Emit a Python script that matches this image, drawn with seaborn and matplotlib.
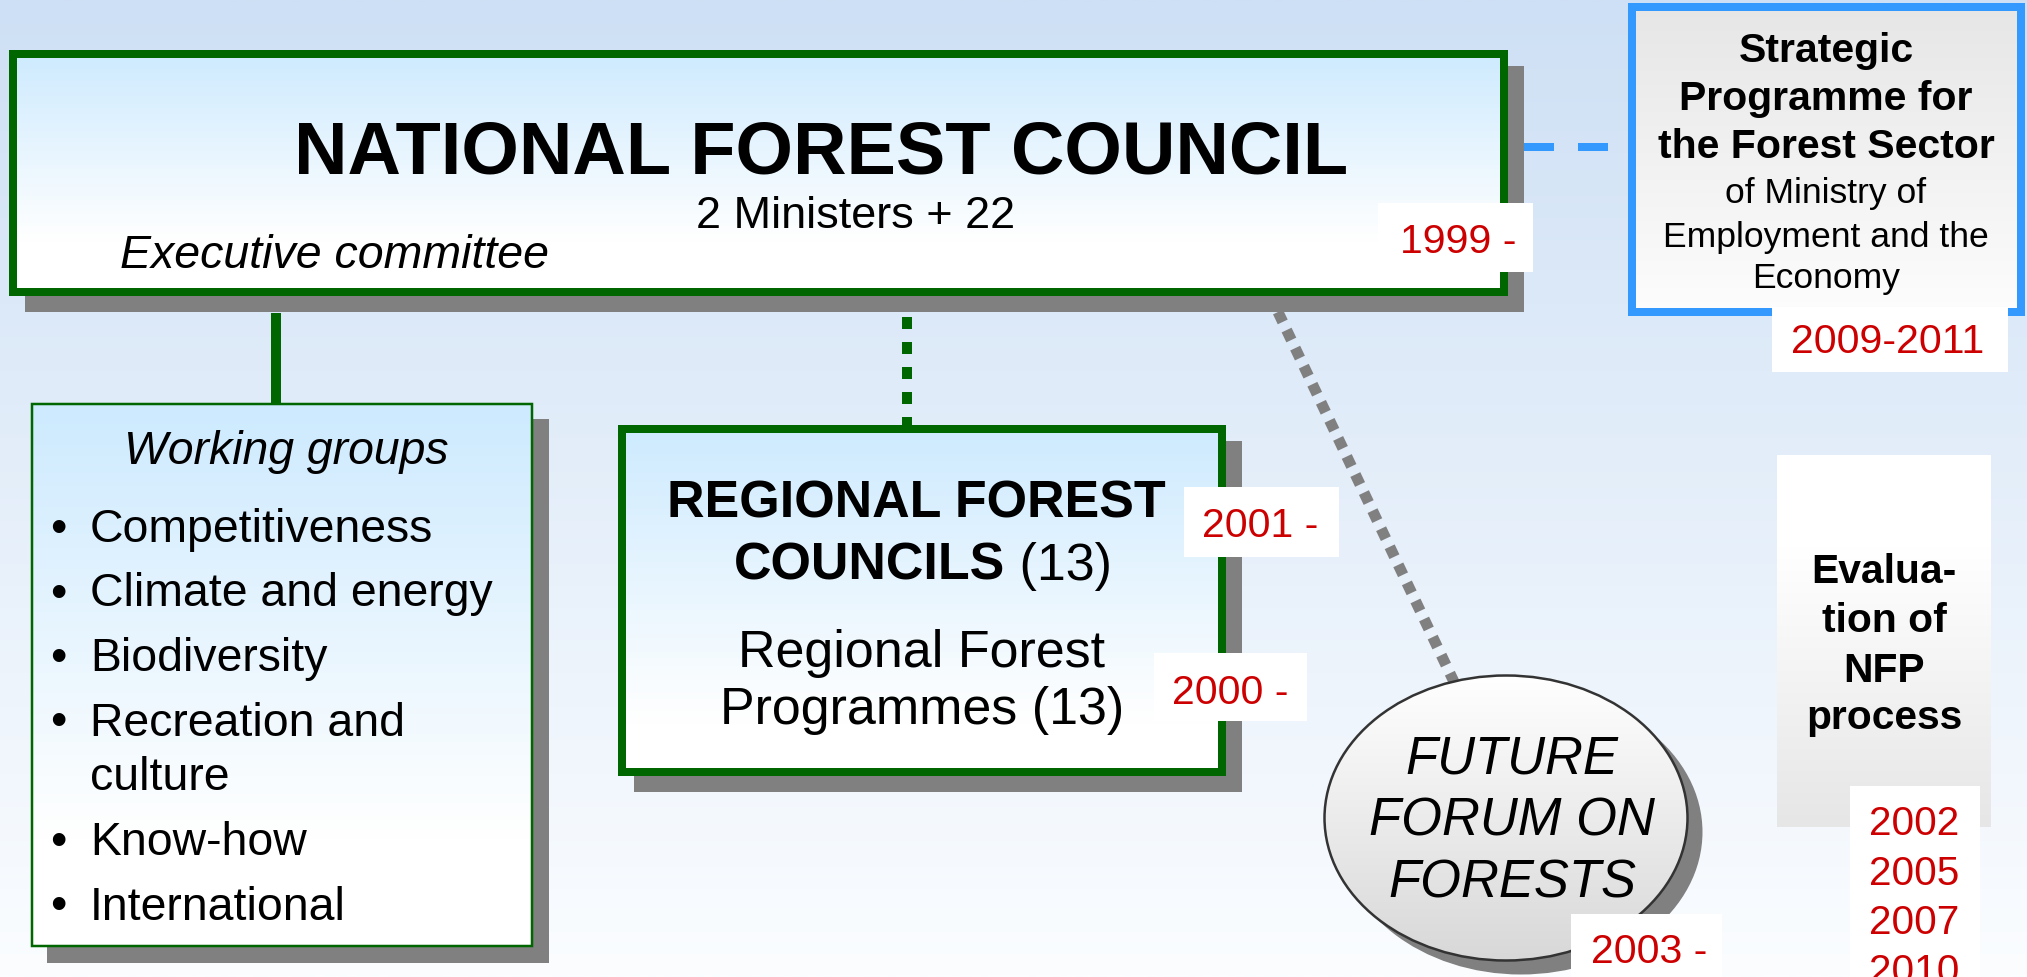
import numpy as np
import matplotlib
matplotlib.use("Agg")
import matplotlib.pyplot as plt
from matplotlib.patches import Rectangle, Ellipse
from matplotlib.colors import to_rgb
import seaborn as sns

sns.set_theme(style="white")
plt.rcParams['font.family'] = ['Liberation Sans', 'DejaVu Sans']
plt.rcParams['text.color'] = 'black'
plt.rcParams['lines.scale_dashes'] = False

W, H = 2027, 977
DPI = 100
PT = 72 / DPI  # pixels -> points

GREEN = '#006600'
RED = '#cc0000'
BLUE = '#3399ff'
SHADOW = '#808080'

# texts and years
council_title = "NATIONAL FOREST COUNCIL"
council_members = "2 Ministers + 22"
council_sub = "Executive committee"
council_year = "1999 -"
strategic_bold = ["Strategic", "Programme for", "the Forest Sector"]
strategic_rest = ["of Ministry of", "Employment and the", "Economy"]
strategic_years = "2009-2011"
working_title = "Working groups"
working_groups = ["Competitiveness", "Climate and energy", "Biodiversity",
                  "Recreation and\nculture", "Know-how", "International"]
regional_council = ["REGIONAL FOREST", "COUNCILS", " (13)"]
regional_council_year = "2001 -"
regional_programme = ["Regional Forest", "Programmes (13)"]
regional_programme_year = "2000 -"
forum_lines = ["FUTURE", "FORUM ON", "FORESTS"]
forum_year = "2003 -"
evaluation_lines = ["Evalua-", "tion of", "NFP", "process"]
evaluation_years = ["2002", "2005", "2007", "2010"]


def gradient(ax, x0, y0, x1, y1, top, bottom, clip=None, start=0.0, stop=1.0, z=1):
    t = np.linspace(0, 1, 300)
    t = np.clip((t - start) / (stop - start), 0, 1)
    c0, c1 = np.array(to_rgb(top)), np.array(to_rgb(bottom))
    img = (c0[None, :] * (1 - t[:, None]) + c1[None, :] * t[:, None])[:, None, :]
    im = ax.imshow(img, extent=[x0, x1, y1, y0], origin='upper', aspect='auto',
                   interpolation='bilinear', zorder=z)
    if clip is not None:
        im.set_clip_path(clip)


def box(ax, x0, y0, x1, y1, edge, lw_px, top, bottom, start=0.0, stop=1.0,
        shadow=16, z=2):
    if shadow:
        ax.add_patch(Rectangle((x0 + shadow, y0 + shadow), x1 - x0, y1 - y0,
                               fc=SHADOW, ec='none', zorder=z))
    b = lw_px
    r = Rectangle((x0 + b / 2, y0 + b / 2), x1 - x0 - b, y1 - y0 - b,
                  fc='none', ec=edge if b else 'none', lw=b * PT, zorder=z + 0.2)
    ax.add_patch(r)
    gradient(ax, x0, y0, x1, y1, top, bottom, clip=r, start=start, stop=stop, z=z + 0.1)


def txt(ax, x, y, s, px, z=10, **kw):
    kw.setdefault('ha', 'center')
    return ax.text(x, y, s, fontsize=px * PT, va='baseline', zorder=z, **kw)


def year_label(ax, x0, y0, x1, y1, s, tx, ty, px=41, ha='left', z=8):
    ax.add_patch(Rectangle((x0, y0), x1 - x0, y1 - y0, fc='white', ec='none', zorder=z))
    txt(ax, tx, ty, s, px, z=z + 0.5, color=RED, ha=ha)


fig = plt.figure(figsize=(W / DPI, H / DPI), dpi=DPI)
ax = fig.add_axes([0, 0, 1, 1])
ax.set_axis_off()

# page background
gradient(ax, 0, 0, W, H, '#cee0f5', '#fbfdff', z=0)

# connectors
ax.plot([276, 276], [313, 403], color=GREEN, lw=10 * PT, solid_capstyle='butt', zorder=1)
ax.plot([907, 907], [317, 427], color=GREEN, lw=10 * PT, dashes=(12 * PT, 13 * PT),
        dash_capstyle='butt', zorder=1)
ax.plot([1524, 1630], [147, 147], color=BLUE, lw=8 * PT, dashes=(30 * PT, 24 * PT),
        dash_capstyle='butt', zorder=1)
ax.plot([1278, 1455], [312, 684], color=SHADOW, lw=11 * PT, dashes=(11 * PT, 9 * PT),
        dash_capstyle='butt', zorder=1)

# national forest council
box(ax, 9, 50, 1508, 296, GREEN, 8, '#cdeafe', '#ffffff', stop=0.78)
txt(ax, 821, 174, council_title, 74, weight='bold')
txt(ax, 856, 228, council_members, 45)
txt(ax, 120, 268, council_sub, 46.5, ha='left', style='italic')
year_label(ax, 1378, 203, 1533, 272, council_year, 1400, 253)

# strategic programme
box(ax, 1628, 3, 2025, 316, BLUE, 8, '#e6e6e6', '#fdfdfd', shadow=0)
for line, y in zip(strategic_bold, [62, 110, 158]):
    txt(ax, 1826, y, line, 41, weight='bold')
for line, y in zip(strategic_rest, [203, 247, 288]):
    txt(ax, 1826, y, line, 35.5)
year_label(ax, 1772, 307, 2008, 372, strategic_years, 1888, 353, ha='center')

# working groups
box(ax, 31, 403, 533, 947, GREEN, 2.5, '#cdeafe', '#ffffff', stop=0.8)
txt(ax, 286, 464, working_title, 46.4, style='italic')
y = 542
for item in working_groups:
    lines = item.split("\n")
    txt(ax, 58, y, "\u2022", 46.4)
    for i, line in enumerate(lines):
        txt(ax, 90, y, line, 46.4, ha='left')
        y += 55 if i < len(lines) - 1 else 64.5

# regional councils / programmes
box(ax, 618, 425, 1226, 776, GREEN, 8, '#cdeafe', '#ffffff', stop=0.85)
txt(ax, 916, 517, regional_council[0], 52, weight='bold')
t_bold = txt(ax, 734, 580, regional_council[1], 52, ha='left', weight='bold')
ax.annotate(regional_council[2], xy=(1, 0), xycoords=t_bold, fontsize=52 * PT,
            ha='left', va='bottom', zorder=10)
txt(ax, 922, 667, regional_programme[0], 52)
txt(ax, 922, 724, regional_programme[1], 52)
year_label(ax, 1184, 487, 1339, 557, regional_council_year, 1202, 537)
year_label(ax, 1154, 653, 1307, 721, regional_programme_year, 1172, 704)

# future forum on forests
ax.add_patch(Ellipse((1521, 832), 363, 285, fc=SHADOW, ec='none', zorder=3))
ell = Ellipse((1506, 818), 363, 285, fc='none', ec='#333333', lw=2.5 * PT, zorder=3.2)
ax.add_patch(ell)
gradient(ax, 1323, 675, 1689, 961, '#ffffff', '#d8d8d8', clip=ell, z=3.1)
for line, y in zip(forum_lines, [773, 836, 898]):
    txt(ax, 1512, y, line, 52.5, style='italic')
year_label(ax, 1571, 914, 1722, 990, forum_year, 1591, 963)

# evaluation of NFP process
box(ax, 1777, 455, 1991, 827, 'none', 0, '#ffffff', '#e6e6e6', start=0.25, shadow=0)
for line, y in zip(evaluation_lines, [583, 632, 682, 729]):
    txt(ax, 1884, y, line, 40.7, weight='bold')
ax.add_patch(Rectangle((1850, 786), 130, 200, fc='white', ec='none', zorder=8))
for yr, y in zip(evaluation_years, [835, 885, 934, 983]):
    txt(ax, 1914, y, yr, 40.5, z=9, color=RED)

ax.set_xlim(0, W)
ax.set_ylim(H, 0)
fig.savefig("out.png", dpi=DPI)
